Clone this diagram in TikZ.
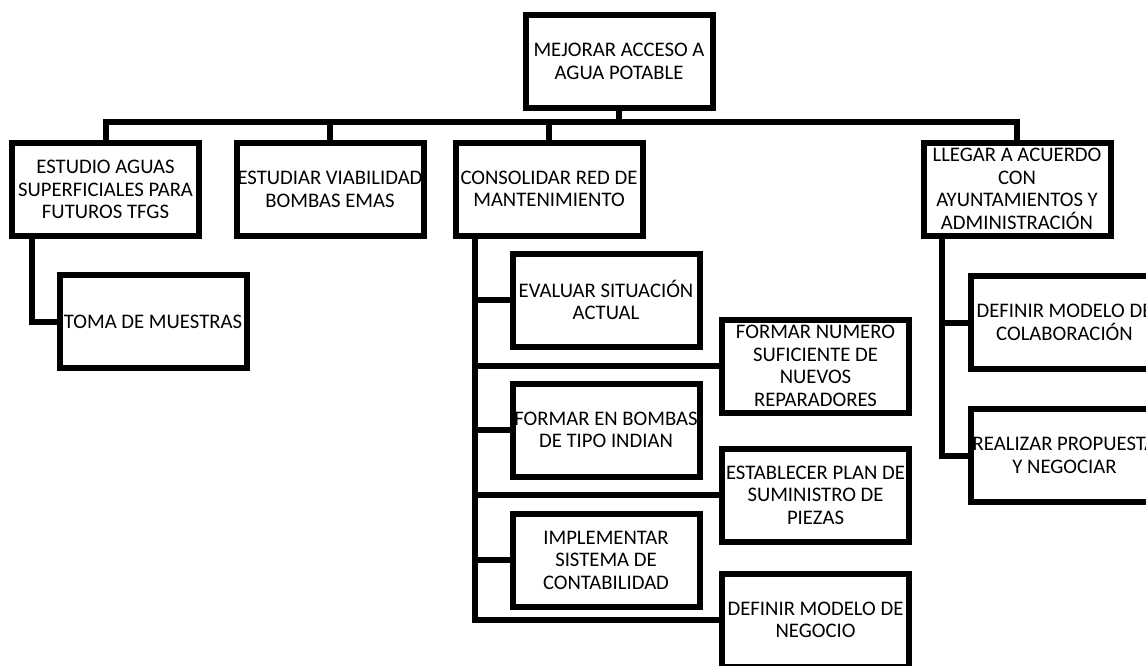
\documentclass[tikz,border=0pt]{standalone}
\usepackage{fontspec}
\setmainfont{Carlito}
\tikzset{
  caja/.style={draw=black, line width=6pt, minimum width=187pt, minimum height=93pt,
    inner sep=0pt, align=center, font=\fontsize{20.7}{22.5}\selectfont},
  enlace/.style={draw=black, line width=6pt}
}
\begin{document}
\begin{tikzpicture}[x=1pt, y=-1pt]
  \useasboundingbox (0,0) rectangle (1146,665);
  \clip (0,0) rectangle (1146,665);
  % nivel 0 y nivel 1
  \node[caja] (raiz) at (619,61.5) {MEJORAR ACCESO A\\ AGUA POTABLE};
  \node[caja] (estudio) at (105.5,189.5) {ESTUDIO AGUAS\\ SUPERFICIALES PARA\\ FUTUROS TFGS};
  \node[caja] (viabilidad) at (330,189.5) {ESTUDIAR VIABILIDAD\\ BOMBAS EMAS};
  \node[caja] (consolidar) at (549,189) {CONSOLIDAR RED DE\\ MANTENIMIENTO};
  \node[caja] (acuerdo) at (1017,189) {LLEGAR A ACUERDO\\ CON\\ AYUNTAMIENTOS Y\\ ADMINISTRACIÓN};
  \coordinate (bus) at (0,122);
  \draw[enlace] (raiz.south) -- (raiz.south |- bus);
  \draw[enlace] (estudio.north) -- (estudio.north |- bus) -- (acuerdo.north |- bus) -- (acuerdo.north);
  \draw[enlace] (viabilidad.north) -- (viabilidad.north |- bus);
  \draw[enlace] (consolidar.north) -- (consolidar.north |- bus);
  % estudio aguas
  \node[caja] (muestras) at (153,321.5) {TOMA DE MUESTRAS};
  \coordinate[xshift=23pt] (espina1) at (estudio.south west);
  \draw[enlace] (espina1) |- (muestras.west);
  % red de mantenimiento
  \foreach \nm/\xc/\yc/\txt in {
    evaluar/606/300/{EVALUAR SITUACIÓN\\ ACTUAL},
    numero/815.5/366/{FORMAR NUMERO\\ SUFICIENTE DE\\ NUEVOS\\ REPARADORES},
    bombas/606/430/{FORMAR EN BOMBAS\\ DE TIPO INDIAN},
    piezas/815.5/495/{ESTABLECER PLAN DE\\ SUMINISTRO DE\\ PIEZAS},
    contab/606/560/{IMPLEMENTAR\\ SISTEMA DE\\ CONTABILIDAD},
    negocio/815.5/620/{DEFINIR MODELO DE\\ NEGOCIO}}
  {
    \node[caja] (\nm) at (\xc,\yc) {\txt};
  }
  \coordinate[xshift=22pt] (espina2) at (consolidar.south west);
  \draw[enlace] (espina2) |- (negocio.west);
  \foreach \nm in {evaluar,numero,bombas,piezas,contab}
    \draw[enlace] (espina2 |- \nm.west) -- (\nm.west);
  % acuerdo
  \node[caja] (colab) at (1064.5,322.5) {DEFINIR MODELO DE\\ COLABORACIÓN};
  \node[caja] (propuesta) at (1064.5,455.5) {REALIZAR PROPUESTA\\ Y NEGOCIAR};
  \coordinate[xshift=21pt] (espina3) at (acuerdo.south west);
  \draw[enlace] (espina3) |- (propuesta.west);
  \draw[enlace] (espina3 |- colab.west) -- (colab.west);
\end{tikzpicture}
\end{document}
